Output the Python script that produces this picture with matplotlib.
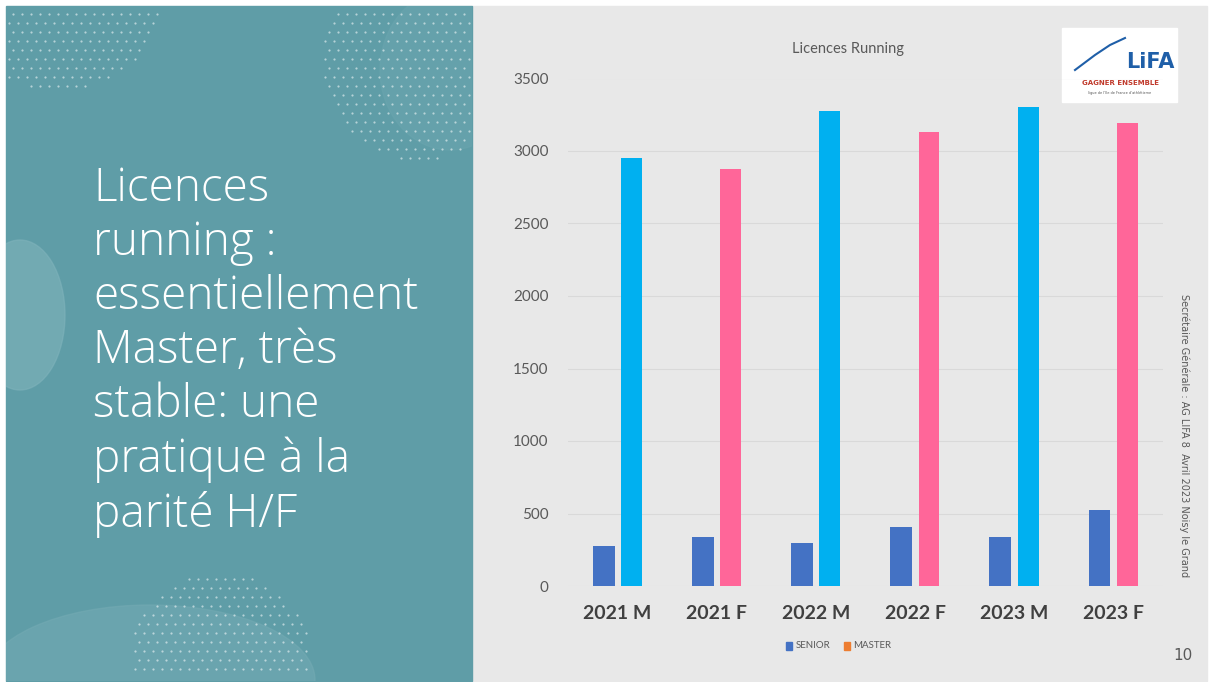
import numpy as np
import matplotlib.pyplot as plt
from matplotlib.patches import Rectangle, Ellipse

categories = ["2021 M", "2021 F", "2022 M", "2022 F", "2023 M", "2023 F"]
senior = [276, 338, 297, 409, 338, 525]
master = [2950, 2877, 3273, 3128, 3305, 3190]
yticks = [0, 500, 1000, 1500, 2000, 2500, 3000, 3500]

blue = "#4472C4"
cyan = "#00B0F0"
pink = "#FF6699"
orange = "#ED7D31"
teal = "#5F9DA7"

W, H = 1211, 682
fig = plt.figure(figsize=(W / 100, H / 100), dpi=100)
fig.patch.set_facecolor("white")

# slide background in pixel coordinates
bg = fig.add_axes([0, 0, 1, 1])
bg.set_xlim(0, W)
bg.set_ylim(H, 0)
bg.axis("off")
bg.add_patch(Rectangle((472, 6), 735, 675, color="#E8E8E8", zorder=0))
panel = Rectangle((6, 6), 466, 675, color=teal, zorder=0)
bg.add_patch(panel)

# soft blobs on the teal panel
for e in [Ellipse((20, 315), 90, 150, color="#7FB3BB", alpha=0.6, zorder=1),
          Ellipse((150, 680), 330, 150, color="#73AAB3", alpha=0.6, zorder=1),
          Ellipse((450, 70), 140, 160, color="#6BA6AF", alpha=0.5, zorder=1)]:
    bg.add_patch(e)
    e.set_clip_path(panel)

# dot patterns
def dots(cx, cy, r, step=9):
    gx, gy = np.meshgrid(np.arange(cx - r, cx + r, step), np.arange(cy - r, cy + r, step))
    gx = gx + (np.arange(gx.shape[0])[:, None] % 2) * step / 2
    m = (gx - cx) ** 2 + (gy - cy) ** 2 < r ** 2
    m &= (gx > 8) & (gx < 470) & (gy > 8) & (gy < 678)
    bg.scatter(gx[m], gy[m], s=2.5, color="white", alpha=0.55, linewidths=0, zorder=2)

dots(60, -20, 110)
dots(420, 60, 100)
dots(220, 660, 90)

bg.text(93, 166, "Licences\nrunning :\nessentiellement\nMaster, très\nstable: une\npratique à la\nparité H/F",
        color="white", fontsize=33, family="Open Sans", fontweight="light",
        va="top", ha="left", linespacing=1.23, zorder=3)

# logo box
bg.add_patch(Rectangle((1062, 28), 115, 74, color="white", zorder=2))
bg.text(1150, 62, "LiFA", color="#1F5FA8", fontsize=15, fontweight="bold",
        family="DejaVu Sans Condensed", ha="center", va="center", zorder=3)
bg.text(1120, 83, "GAGNER ENSEMBLE", color="#C0392B", fontsize=5, fontweight="bold",
        ha="center", va="center", zorder=3)
bg.text(1120, 93, "ligue de l'Ile de France d'athlétisme", color="#555555", fontsize=2.5,
        ha="center", va="center", zorder=3)
bg.plot([1075, 1095, 1110, 1125], [70, 55, 45, 38], color="#1F5FA8", lw=1.5, zorder=3)

bg.text(848, 49, "Licences Running", color="#595959", fontsize=10.5,
        family="Lato", ha="center", va="center")
bg.text(1184, 436, "Secrétaire Générale : AG LIFA 8  Avril 2023 Noisy le Grand",
        color="#595959", fontsize=7, rotation=-90, ha="center", va="center")
bg.text(1183, 656, "10", color="#595959", fontsize=11, ha="center", va="center")

# legend
bg.add_patch(Rectangle((786, 642), 6, 8, color=blue))
bg.text(796, 646, "SENIOR", color="#595959", fontsize=7, family="Lato", va="center")
bg.add_patch(Rectangle((844, 642), 6, 8, color=orange))
bg.text(853, 646, "MASTER", color="#595959", fontsize=7, family="Lato", va="center")

# chart
ax = fig.add_axes([568 / W, 1 - 586 / H, (1163 - 568) / W, (586 - 78.5) / H])
ax.patch.set_alpha(0)
x = np.arange(len(categories))
master_colors = [cyan if c.endswith("M") else pink for c in categories]
ax.bar(x - 0.14, senior, width=0.22, color=blue, zorder=3)
ax.bar(x + 0.14, master, width=0.21, color=master_colors, zorder=3)
ax.set_xlim(-0.5, len(categories) - 0.5)
ax.set_ylim(0, 3500)
ax.set_yticks(yticks)
ax.set_xticks(x)
ax.set_xticklabels(categories, fontsize=14, fontweight="bold", color="#404040", family="Lato")
ax.tick_params(axis="x", length=0, pad=14)
ax.tick_params(axis="y", length=0, pad=14, labelsize=11, labelcolor="#595959")
for lab in ax.get_yticklabels():
    lab.set_family("Lato")
ax.grid(axis="y", color="#D9D9D9", lw=0.8, zorder=0)
for s in ax.spines.values():
    s.set_visible(False)

fig.savefig("out.png", dpi=100)
